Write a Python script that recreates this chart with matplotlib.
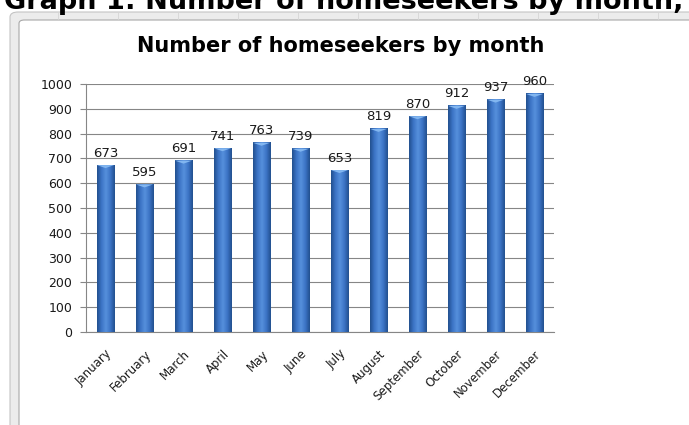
import numpy as np
import matplotlib
matplotlib.use("Agg")
import matplotlib.pyplot as plt
from matplotlib.patches import FancyBboxPatch
from matplotlib.colors import LinearSegmentedColormap

months = ["January", "February", "March", "April", "May", "June", "July",
          "August", "September", "October", "November", "December"]
homeseekers = [673, 595, 691, 741, 763, 739, 653, 819, 870, 912, 937, 960]
y_ticks = list(range(0, 1001, 100))

W, H = 689, 425
fig = plt.figure(figsize=(W / 100, H / 100), dpi=100)


def px(x, y):
    # pixel coords (from top-left) -> figure fraction
    return x / W, 1 - y / H


# page heading, cut at top edge like in the source screenshot
fig.text(*px(344, 9), "Graph 1: Number of homeseekers by month,", ha="center",
         va="baseline", fontsize=19.5, fontweight="bold", color="black")

# excel chart frame
outer = FancyBboxPatch(px(10, 440), 700 / W, 428 / H, boxstyle="round,pad=0,rounding_size=0.012",
                       transform=fig.transFigure, facecolor="#ececec", edgecolor="#c4c4c4",
                       lw=0.8, zorder=-10)
inner = FancyBboxPatch(px(19, 440), 690 / W, 420 / H, boxstyle="round,pad=0,rounding_size=0.008",
                       transform=fig.transFigure, facecolor="white", edgecolor="#a8a8a8",
                       lw=0.8, zorder=-9)
fig.patches.extend([outer, inner])
for xp in [58, 118, 178, 238, 298, 358, 418, 478, 538, 598, 658]:
    fig.add_artist(plt.Line2D([xp / W, xp / W], [1 - 12 / H, 1 - 19 / H], color="#d6d6d6",
                              lw=0.6, zorder=-8))

fig.text(*px(341, 46), "Number of homeseekers by month", ha="center", va="center",
         fontsize=15, fontweight="bold", color="black")

ax = fig.add_axes([86 / W, 93 / H, 468 / W, 248 / H])
ax.patch.set_alpha(0)
x = np.arange(len(months))
bar_w = 0.44
bars = ax.bar(x, homeseekers, width=bar_w, color="#3c72c4", zorder=2)

cmap = LinearSegmentedColormap.from_list("cyl", ["#22508f", "#3c74c6", "#5690dc", "#3c74c6", "#22508f"])
grad = np.linspace(0, 1, 64).reshape(1, -1)
for b in bars:
    bx, bw, bh = b.get_x(), b.get_width(), b.get_height()
    ax.imshow(grad, cmap=cmap, aspect="auto", extent=[bx, bx + bw, 0, bh], zorder=3)
    ax.fill([bx, bx + bw, bx + bw / 2], [bh, bh, bh - 12], color="#82b6f0", zorder=4, lw=0)
    ax.annotate(f"{int(bh)}", (bx + bw / 2, bh), xytext=(0, 4), textcoords="offset points",
                ha="center", va="bottom", fontsize=9.5, color="#1a1a1a")

ax.set_xlim(-0.5, len(months) - 0.5)
ax.set_ylim(0, 1000)
ax.set_yticks(y_ticks)
ax.set_yticklabels([str(v) for v in y_ticks], fontsize=9, color="#1a1a1a")
ax.set_xticks(x)
ax.set_xticklabels(months, rotation=45, ha="right", rotation_mode="anchor", fontsize=8.5, color="#1a1a1a")
ax.tick_params(axis="x", length=0, pad=11)
ax.tick_params(axis="y", length=4, width=0.8, color="#868686", pad=6)
ax.grid(axis="y", color="#868686", lw=0.8, zorder=0)
for s in ["top", "right"]:
    ax.spines[s].set_visible(False)
for s in ["left", "bottom"]:
    ax.spines[s].set_color("#868686")
    ax.spines[s].set_linewidth(0.8)

fig.savefig("out.png", dpi=100)
